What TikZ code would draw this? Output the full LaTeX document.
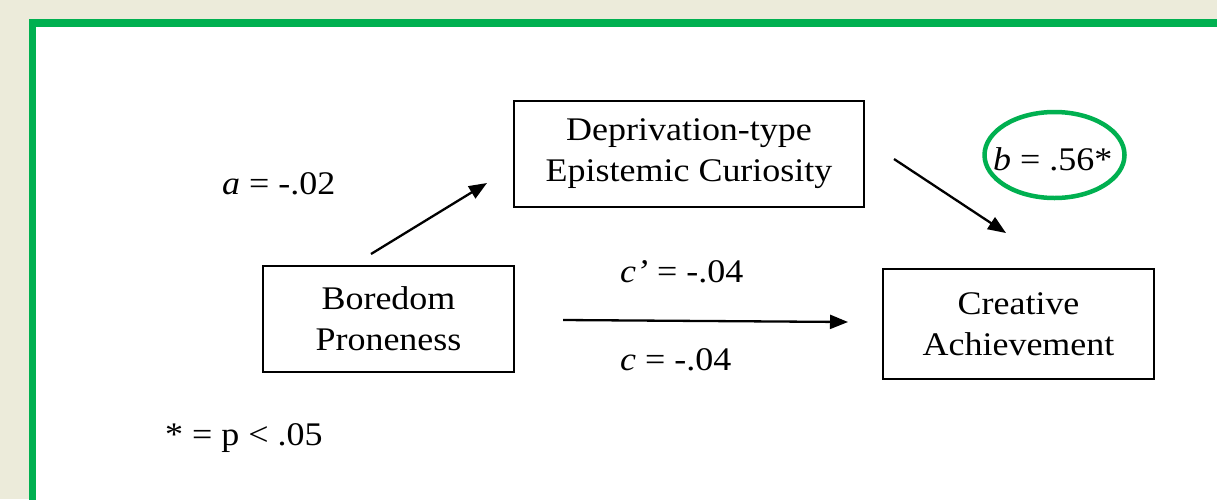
\documentclass[tikz,border=0pt]{standalone}
\usepackage{fontspec}
\setmainfont{Liberation Serif}[FakeStretch=1.09]
\usetikzlibrary{arrows.meta}
\definecolor{bg}{HTML}{ECEBDA}
\definecolor{frameg}{HTML}{00B050}
\begin{document}
\begin{tikzpicture}[x=1pt,y=-1pt,
  txt/.style={font=\fontsize{33}{41}\selectfont},
  box/.style={txt, draw=black, line width=2pt, fill=white, align=center, inner sep=0pt},
  lbl/.style={txt, anchor=base west, inner sep=0pt},
  oval/.style={draw=frameg, line width=4.5pt},
  arr/.style={line width=2.3pt, -{Triangle[length=18pt,width=14pt]}}]
\clip (0,0) rectangle (1217,499);
\fill[bg] (0,0) rectangle (1217,499);
\draw[frameg, line width=7.5pt, fill=white] (32.5,23) rectangle (1300,600);
% boxes
\node[box, minimum width=251pt, minimum height=106pt] (bp) at (388.5,319) {Boredom\\Proneness};
\node[box, minimum width=350pt, minimum height=106pt] (dc) at (689,154) {Deprivation-type\\Epistemic Curiosity};
\node[box, minimum width=271pt, minimum height=110pt] (ca) at (1018.5,324) {Creative\\Achievement};
% labels
\node[lbl] (la) at (222,194) {\textit{a} = -.02};
\node[lbl] (lcp) at (620,282) {\textit{c'} = -.04};
\node[lbl] (lc) at (620,370) {\textit{c} = -.04};
\node[lbl] (lp) at (165,445) {* = p < .05};
\node[lbl] (lb) at (993,170) {\textit{b} = .56*};
\draw[oval] (1054.5,155) ellipse [x radius=70, y radius=43];
% arrow ends
\coordinate (a0) at (371,254);
\coordinate (a1) at (487,183);
\coordinate (b0) at (894,159);
\coordinate (b1) at (1006,233);
\coordinate (c0) at (563,320);
\coordinate (c1) at (848,322);
\draw[arr] (a0) -- (a1);
\draw[arr] (b0) -- (b1);
\draw[arr] (c0) -- (c1);
\end{tikzpicture}
\end{document}
